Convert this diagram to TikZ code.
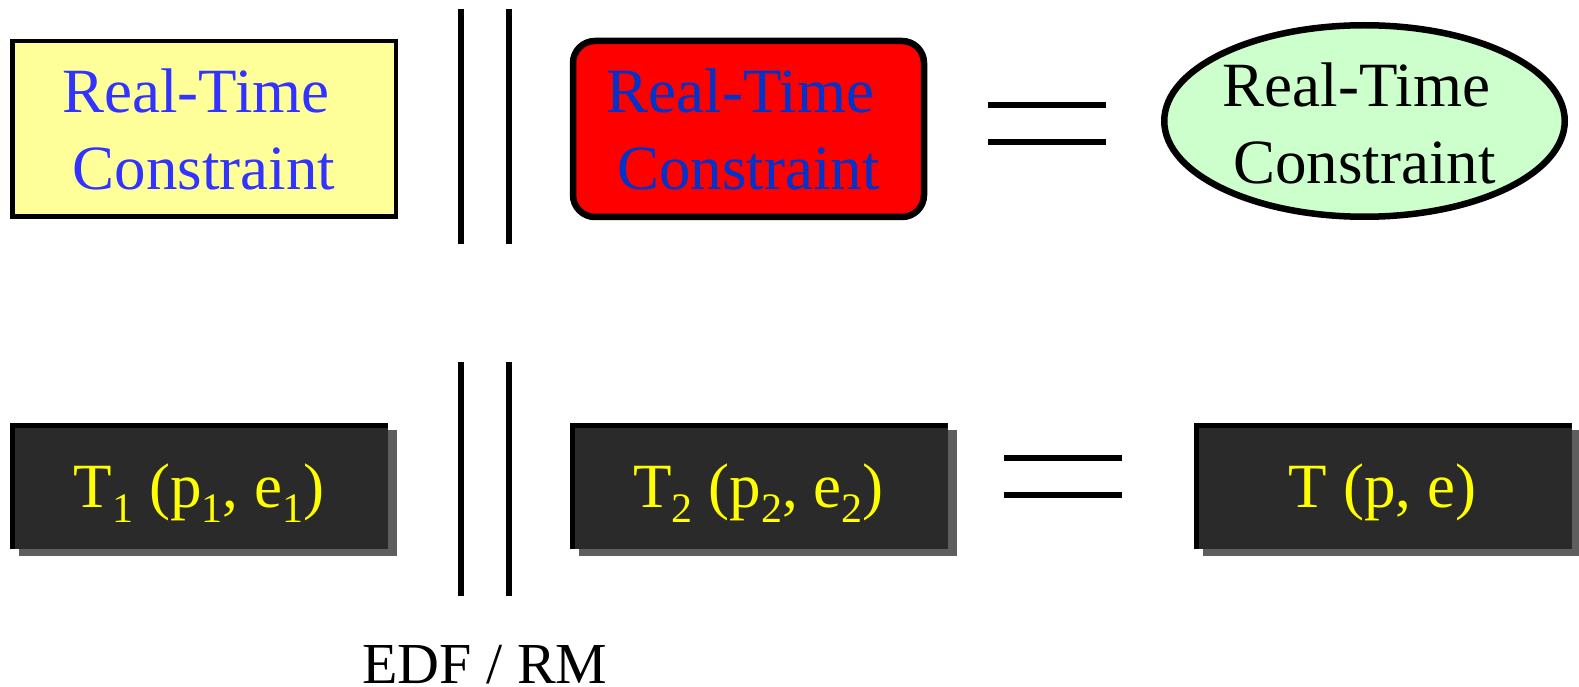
\documentclass[tikz,border=0pt]{standalone}
\usepackage{fontspec}
\setmainfont{Liberation Serif}
\usetikzlibrary{shapes.geometric,shadows}

\definecolor{paleyellow}{HTML}{FFFF99}
\definecolor{textblue}{HTML}{3333FF}
\definecolor{deepblue}{RGB}{0,51,204}
\definecolor{palegreen}{HTML}{CCFFCC}
\definecolor{boxdark}{HTML}{2A2A2A}
\definecolor{shadowgray}{HTML}{5E5E5E}
\definecolor{tasktext}{HTML}{FFFF00}

% lowered, smaller index digit as used in the task labels
\newcommand{\idx}[1]{\raisebox{-15pt}{\fontsize{42}{42}\selectfont #1}}

\begin{document}
\begin{tikzpicture}[x=1pt,y=-1pt,
  bigtext/.style={font=\fontsize{63}{77}\selectfont, text width=420pt, align=center,
                  anchor=base, inner sep=0pt},
  bar/.style={line width=6pt},
  yellowbox/.style={rectangle, draw=black, line width=4.5pt, fill=paleyellow,
                    minimum width=383.5pt, minimum height=175.5pt, inner sep=0pt},
  redbox/.style={rectangle, rounded corners=22pt, draw=black, line width=6.5pt, fill=red,
                 minimum width=351pt, minimum height=176pt, inner sep=0pt},
  greenoval/.style={ellipse, draw=black, line width=6.5pt, fill=palegreen,
                    minimum width=400.5pt, minimum height=191.5pt, inner sep=0pt},
  taskbox/.style={rectangle, fill=boxdark, draw=none, inner sep=0pt,
                  minimum width=378pt, minimum height=126pt,
                  text height=42pt, text depth=0pt, text=tasktext,
                  font=\fontsize{63}{77}\selectfont,
                  drop shadow={shadow xshift=9pt, shadow yshift=-7pt, fill=shadowgray, opacity=1},
                  path picture={
                    \fill[black] (path picture bounding box.north west) rectangle
                      ([xshift=5pt]path picture bounding box.south west);
                    \fill[black] (path picture bounding box.north west) rectangle
                      ([yshift=-5pt]path picture bounding box.north east);
                  }},
]
\useasboundingbox (0,0) rectangle (1579,687);

% ---- upper row: three kinds of real-time constraint ----
\node[yellowbox] (c1) at (204,129) {};
\node[bigtext, text=textblue] (c1t) at (204,113) {Real-Time\kern16pt\\Constraint};

\node[redbox] (c2) at (748.5,129) {};
\node[bigtext, text=deepblue] (c2t) at (748.5,113) {Real-Time\kern16pt\\Constraint};

\node[greenoval] (c3) at (1364.5,121) {};
\node[bigtext, text=black] (c3t) at (1364.5,107) {Real-Time\kern16pt\\Constraint};

% parallel composition bars
\draw[bar] (460.5,9) -- (460.5,244);
\draw[bar] (508.5,9) -- (508.5,244);
% equals sign
\draw[bar] (988,105.5) -- (1106,105.5);
\draw[bar] (988,142.5) -- (1106,142.5);

% ---- lower row: periodic tasks ----
\node[taskbox] (t1) at (199,486) {T\idx{1} (p\idx{1}, e\idx{1})};
\node[taskbox] (t2) at (758.5,486) {T\idx{2} (p\idx{2}, e\idx{2})};
\node[taskbox] (t3) at (1382.5,486) {T (p, e)};

\draw[bar] (460.5,362) -- (460.5,596);
\draw[bar] (508.5,362) -- (508.5,596);
\draw[bar] (1004,457.5) -- (1122,457.5);
\draw[bar] (1004,494.5) -- (1122,494.5);

% scheduling policy label
\node[anchor=base, inner sep=0pt, font=\fontsize{58}{70}\selectfont] (sched) at (485,683) {EDF / RM};
\end{tikzpicture}
\end{document}
